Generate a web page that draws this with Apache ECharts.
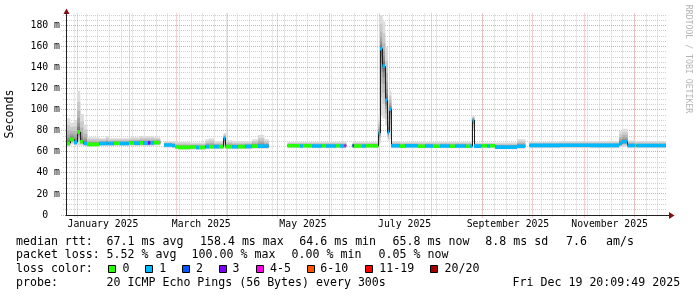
<!DOCTYPE html>
<html><head><meta charset="utf-8">
<script src="https://cdn.jsdelivr.net/npm/echarts@6/dist/echarts.min.js"></script>
<style>html,body{margin:0;padding:0;background:#fff}#c{width:697px;height:297px}</style>
</head><body><div id="c"></div>
<script>
// ---------------- DATA ----------------
const START = '2024-12-24 20:09:49';
const END = '2025-12-19 20:09:49';
// each value holds from its date until the next date
const segDates = ['2024-12-24 20:09','2024-12-27 06:00','2024-12-29 16:00','2024-12-31 11:00','2025-01-02 06:00','2025-01-04 09:00','2025-01-06 11:00','2025-01-13 16:00','2025-01-17 21:00','2025-01-19 09:00','2025-01-22 16:00','2025-01-26 06:00','2025-01-31 16:00','2025-02-03 16:00','2025-02-07 06:00','2025-02-09 01:00','2025-02-12 01:00','2025-02-13 11:00','2025-02-15 16:00','2025-02-19 06:00','2025-02-21 16:00','2025-02-26 11:00','2025-02-28 06:00','2025-03-02 01:00','2025-03-09 06:00','2025-03-12 21:00','2025-03-14 16:00','2025-03-18 13:00','2025-03-20 16:00','2025-03-23 16:00','2025-03-26 16:00','2025-03-29 09:00','2025-03-30 13:00','2025-04-03 11:00','2025-04-07 01:00','2025-04-11 06:00','2025-04-15 11:00','2025-04-19 01:00','2025-04-22 16:00','2025-04-25 06:00','2025-05-06 18:00','2025-05-14 06:00','2025-05-16 01:00','2025-05-21 11:00','2025-05-27 11:00','2025-05-29 21:00','2025-06-04 21:00','2025-06-07 06:00','2025-06-09 23:00','2025-06-10 21:00','2025-06-14 18:00','2025-06-15 16:00','2025-06-20 11:00','2025-06-22 21:00','2025-06-30 09:00','2025-07-01 06:00','2025-07-02 18:00','2025-07-04 06:00','2025-07-05 21:00','2025-07-06 16:00','2025-07-07 21:00','2025-07-13 06:00','2025-07-16 06:00','2025-07-24 01:00','2025-07-28 06:00','2025-08-02 01:00','2025-08-06 06:00','2025-08-12 06:00','2025-08-15 06:00','2025-08-21 21:00','2025-08-24 06:00','2025-08-25 18:00','2025-08-26 16:00','2025-08-31 04:00','2025-09-03 11:00','2025-09-05 06:00','2025-09-08 06:00','2025-09-21 11:00','2025-09-26 06:00','2025-09-28 23:00','2025-10-17 06:00','2025-11-04 06:00','2025-11-21 16:00','2025-11-23 11:00','2025-11-26 18:00','2025-12-01 06:00','2025-12-02 04:00'];
const medianMs = [68.1,71.9,69.0,79.0,69.6,68.0,67.1,68.0,68.0,68.0,68.2,68.0,68.5,68.3,68.5,68.3,68.5,68.4,68.8,null,66.5,66.0,64.9,64.3,64.6,64.3,64.3,65.0,64.8,65.0,65.0,72.8,65.0,64.9,65.0,65.2,65.5,65.5,65.5,null,65.8,65.6,65.8,65.6,65.8,65.6,65.8,65.6,65.8,null,65.8,65.6,65.6,65.8,78.0,158.0,141.5,109.0,78.5,100.5,65.8,65.5,65.8,65.3,65.6,65.3,65.6,65.3,65.6,65.3,65.6,90.0,65.5,65.8,65.6,65.8,64.5,65.3,null,66.2,66.3,66.2,68.0,69.6,66.0,66.0,66.0];
const lossLevel = [0,0,1,0,0,1,0,1,1,1,0,1,0,1,0,1,3,1,0,0,1,1,0,0,0,1,0,1,0,1,0,1,0,1,0,1,0,1,1,0,0,1,0,1,0,1,0,1,4,0,2,0,1,0,1,1,1,1,1,1,1,0,1,0,1,0,1,0,1,0,1,1,1,0,1,0,1,1,0,1,1,1,1,1,1,0,1];
const smokeLo = [65.0,67.0,66.0,66.0,66.0,65.5,65.0,65.5,65.5,65.5,65.5,65.5,65.5,65.5,65.5,65.5,65.5,65.5,66.0,null,64.0,63.5,62.5,62.0,62.0,62.0,62.0,62.5,62.5,62.5,62.5,63.0,62.5,62.5,62.5,62.5,63.0,63.0,63.0,null,63.5,63.5,63.5,63.5,63.5,63.5,63.5,63.5,63.5,null,63.5,63.5,63.5,63.5,64.0,95,92,85,70,72,63.5,63.5,63.5,63.5,63.5,63.5,63.5,63.5,63.5,63.5,63.5,80,63.5,63.5,63.5,63.5,62.5,63.0,null,63.5,63.5,63.5,64.5,65.0,63.5,63.5,63.5];
const smokeHi = [92,88,90,118,96,86,74,73,75,73,73,73,74,74,75,75,75,75,74,null,70,70,69.5,69.5,69,69,69,72,73,70,70,78,71,70,70,70,72,76,72,null,69.5,69.5,69.5,69.5,69.5,69.5,69.5,69.5,69.5,null,69.5,69.5,69.5,69.5,95,190,184,160,110,118,70,69.5,69.5,69.5,69.5,69.5,69.5,69.5,69.5,69.5,69.5,95,69,69,69,69,69,72,null,69.5,70,70,80,82,71,70,70];

const monthLines = ['2025-01-01','2025-02-01','2025-03-01','2025-04-01','2025-05-01','2025-06-01','2025-07-01','2025-08-01','2025-09-01','2025-10-01','2025-11-01','2025-12-01'];
const weekLines = ['2024-12-30','2025-01-06','2025-01-13','2025-01-20','2025-01-27','2025-02-03','2025-02-10','2025-02-17','2025-02-24','2025-03-03','2025-03-10','2025-03-17','2025-03-24','2025-03-31','2025-04-07','2025-04-14','2025-04-21','2025-04-28','2025-05-05','2025-05-12','2025-05-19','2025-05-26','2025-06-02','2025-06-09','2025-06-16','2025-06-23','2025-06-30','2025-07-07','2025-07-14','2025-07-21','2025-07-28','2025-08-04','2025-08-11','2025-08-18','2025-08-25','2025-09-01','2025-09-08','2025-09-15','2025-09-22','2025-09-29','2025-10-06','2025-10-13','2025-10-20','2025-10-27','2025-11-03','2025-11-10','2025-11-17','2025-11-24','2025-12-01','2025-12-08','2025-12-15'];
const xLabelDates = ['2025-01-16','2025-03-16','2025-05-16','2025-07-16','2025-09-16','2025-11-16'];
const xLabelTexts = ['January 2025','March 2025','May 2025','July 2025','September 2025','November 2025'];
const yMajor = [0,20,40,60,80,100,120,140,160,180];
const yMinor = [5,10,15,25,30,35,45,50,55,65,70,75,85,90,95,105,110,115,125,130,135,145,150,155,165,170,175,185,190];
const Y_MAX = 191.5;

const lossColors = ['#26ff00','#00b8ff','#0059ff','#7e00ff','#ff00ea','#ff5500','#ff0000','#a10000'];
const lossLabels = ['0','1','2','3','4-5','6-10','11-19','20/20'];
const rttStats = ['67.1 ms avg','158.4 ms max','64.6 ms min','65.8 ms now','8.8 ms sd','7.6','am/s'];
const lossStats = ['5.52 % avg','100.00 % max','0.00 % min','0.05 % now'];
const probeText = '20 ICMP Echo Pings (56 Bytes) every 300s';
const stampText = 'Fri Dec 19 20:09:49 2025';

// ---------------- BUILD ----------------
function ts(s){ if (s.length <= 10) s += ' 00:00'; return new Date(s.replace(' ','T')).getTime(); }
const T0 = ts(START), T1 = ts(END);
const segData = [];
for (let i = 0; i < segDates.length; i++) {
  if (medianMs[i] == null) continue;
  const tEnd = i + 1 < segDates.length ? ts(segDates[i+1]) : T1;
  const prev = (i > 0 && medianMs[i-1] != null) ? medianMs[i-1] : -1;
  segData.push([ts(segDates[i]), tEnd, medianMs[i], prev, lossLevel[i], smokeLo[i], smokeHi[i]]);
}
const FONT = "'DejaVu Sans Mono', monospace";
const C_MINOR = '#d0d0d0', C_MAJOR = '#e8a0a0';
const crisp = v => Math.round(v - 0.5) + 0.5;

function vLine(color, ext) {
  return function(params, api) {
    const cs = params.coordSys;
    const x = crisp(api.coord([api.value(0), 0])[0]);
    return {type:'line', shape:{x1:x, y1:cs.y, x2:x, y2:cs.y + cs.height + ext},
      style:{stroke:color, lineWidth:1, lineDash:[1,1]}};
  };
}
function hLine(color, ext) {
  return function(params, api) {
    const cs = params.coordSys;
    const y = crisp(api.coord([T0, api.value(1)])[1]);
    return {type:'line', shape:{x1:cs.x - ext, y1:y, x2:cs.x + cs.width, y2:y},
      style:{stroke:color, lineWidth:1, lineDash:[1,1]}};
  };
}
const NL = 10, P = 3;
function smokeItem(params, api) {
  const t0 = api.value(0), t1 = api.value(1), med = api.value(2), lo = api.value(5), hi = api.value(6);
  const x0 = api.coord([t0, med])[0], x1 = api.coord([t1, med])[0];
  const children = [];
  for (let k = 0; k < NL; k++) {
    const f = Math.pow((NL - k) / NL, P);
    const g = Math.round(221 - k * 19);
    const yT = api.coord([t0, med + (hi - med) * f])[1];
    const yB = api.coord([t0, med - (med - lo) * f])[1];
    children.push({type:'rect', shape:{x:x0, y:yT, width:x1 - x0 + 0.3, height:yB - yT},
      style:{fill:'rgb(' + g + ',' + g + ',' + g + ')'}});
  }
  return {type:'group', children};
}
function medianItem(params, api) {
  const t0 = api.value(0), t1 = api.value(1), med = api.value(2), prev = api.value(3), loss = api.value(4);
  const x0 = api.coord([t0, med])[0], x1 = api.coord([t1, med])[0];
  const y = api.coord([t0, med])[1];
  const children = [];
  children.push({type:'line', shape:{x1:x0, y1:y, x2:x1, y2:y}, style:{stroke:'#202020', lineWidth:1}});
  if (prev >= 0) {
    const yp = api.coord([t0, prev])[1];
    const xc = crisp(x0);
    children.push({type:'line', shape:{x1:xc, y1:yp, x2:xc, y2:y}, style:{stroke:'#202020', lineWidth:1}});
  }
  children.push({type:'rect', shape:{x:x0, y:y - 1.8, width:x1 - x0, height:3.6}, style:{fill:lossColors[loss]}});
  return {type:'group', children};
}

const xLabelTs = xLabelDates.map(ts);
const graphics = [];
function txt(x, y, s, size, extra) {
  const e = {type:'text', x:x, y:y, z:100,
    style:Object.assign({text:s, font:size + 'px ' + FONT, fill:'#000', textVerticalAlign:'middle', verticalAlign:'middle'}, extra || {})};
  graphics.push(e);
  return e;
}
const LS = 11.6;
const rows = [241.5, 255.2, 269, 282.7];
txt(16, rows[0], 'median rtt:', LS);
[106.6, 200, 299.3, 392.6, 485.3, 566, 606].forEach((x, i) => txt(x, rows[0], rttStats[i], LS));
txt(16, rows[1], 'packet loss:', LS);
[106.6, 191.6, 291.6, 378.6].forEach((x, i) => txt(x, rows[1], lossStats[i], LS));
txt(16, rows[2], 'loss color:', LS);
const boxX = [108.5, 145.5, 182.5, 219.5, 256.5, 307.5, 365.5, 430.5];
const labX = [122.6, 159.3, 196, 232.6, 270, 320.3, 379.3, 444.6];
lossColors.forEach((c, i) => {
  graphics.push({type:'rect', z:100, shape:{x:boxX[i], y:265.5, width:7, height:7}, style:{fill:c, stroke:'#000', lineWidth:1}});
  txt(labX[i], rows[2], lossLabels[i], LS);
});
txt(16, rows[3], 'probe:', LS);
txt(106.6, rows[3], probeText, LS);
txt(512.6, rows[3], stampText, LS);
txt(10, 114, 'Seconds', LS, {textAlign:'center', align:'center'}).rotation = Math.PI / 2;
txt(688, 59, 'RRDTOOL / TOBI OETIKER', 8.2, {textAlign:'center', align:'center', fill:'#b4b4b4'}).rotation = -Math.PI / 2;
// axis arrows & x-axis extension
graphics.push({type:'line', z:100, shape:{x1:666, y1:215.5, x2:670, y2:215.5}, style:{stroke:'#202020', lineWidth:1}});
graphics.push({type:'polygon', z:101, shape:{points:[[669,212],[674.5,215.5],[669,219]]}, style:{fill:'#801010'}});
graphics.push({type:'polygon', z:101, shape:{points:[[63.5,14],[66.5,8.5],[69.5,14]]}, style:{fill:'#801010'}});

const chart = echarts.init(document.getElementById('c'), null, {renderer:'canvas'});
chart.setOption({
  animation:false,
  backgroundColor:'#ffffff',
  grid:{left:66, top:13.5, width:600, height:201.5, containLabel:false},
  xAxis:{type:'value', min:T0, max:T1, z:10, scale:true,
    axisLine:{show:true, onZero:false, lineStyle:{color:'#202020', width:1}},
    axisTick:{show:false},
    splitLine:{show:false},
    axisLabel:{customValues:xLabelTs, margin:4, fontFamily:'DejaVu Sans Mono', fontSize:9.8, color:'#000', hideOverlap:false,
      formatter:function(v){ const i = xLabelTs.indexOf(+v); return i >= 0 ? xLabelTexts[i] : ''; }}
  },
  yAxis:{type:'value', min:0, max:Y_MAX, interval:20, z:10,
    axisLine:{show:true, lineStyle:{color:'#202020', width:1}},
    axisTick:{show:false}, splitLine:{show:false},
    axisLabel:{margin:6, fontFamily:'DejaVu Sans Mono', fontSize:9.8, color:'#000',
      formatter:function(v){ if (Math.abs(v % 20) > 1e-6) return ''; return v === 0 ? '0  ' : v + ' m'; }}
  },
  graphic:graphics,
  series:[
    {type:'custom', name:'vminor', z:0, clip:false, silent:true, data:weekLines.map(d => [ts(d), 0]), encode:{x:0, y:1}, renderItem:vLine(C_MINOR, 2)},
    {type:'custom', name:'hminor', z:0, clip:false, silent:true, data:yMinor.map(v => [T0, v]), encode:{x:0, y:1}, renderItem:hLine(C_MINOR, 3)},
    {type:'custom', name:'vmajor', z:1, clip:false, silent:true, data:monthLines.map(d => [ts(d), 0]), encode:{x:0, y:1}, renderItem:vLine(C_MAJOR, 3)},
    {type:'custom', name:'hmajor', z:1, clip:false, silent:true, data:yMajor.map(v => [T0, v]), encode:{x:0, y:1}, renderItem:hLine(C_MAJOR, 5)},
    {type:'custom', name:'smoke', z:3, clip:true, silent:true, data:segData, encode:{x:[0,1], y:[2,5,6]}, renderItem:smokeItem},
    {type:'custom', name:'median', z:4, clip:true, silent:true, data:segData, encode:{x:[0,1], y:[2,3]}, renderItem:medianItem}
  ]
});
</script></body></html>
